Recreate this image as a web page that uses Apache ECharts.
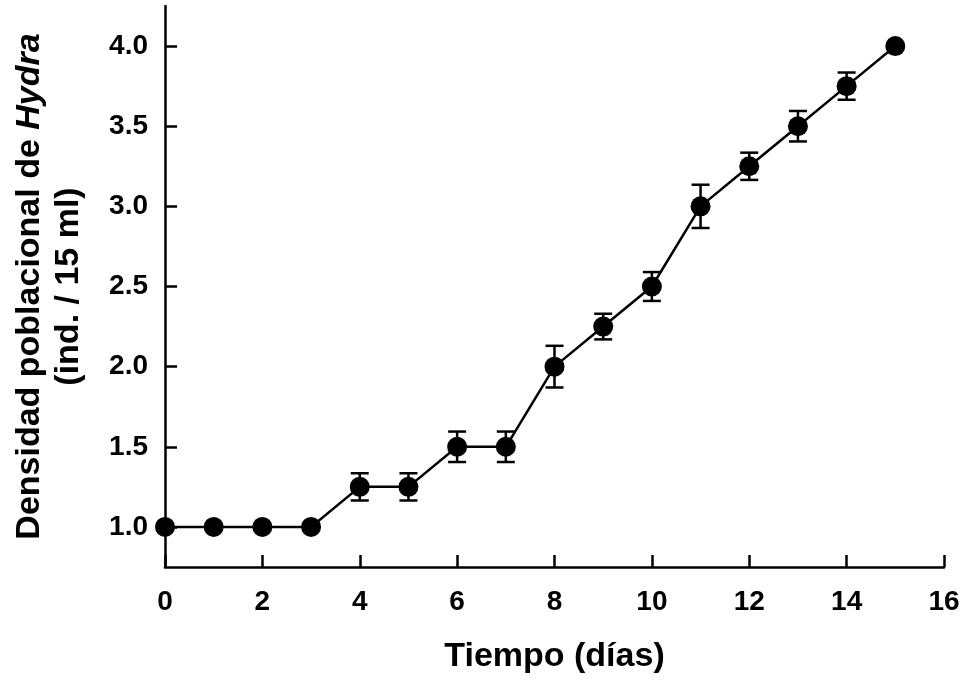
<!DOCTYPE html>
<html>
<head>
<meta charset="utf-8">
<title>Hydra</title>
<script src="https://cdn.jsdelivr.net/npm/echarts@6/dist/echarts.min.js"></script>
<style>
  html, body { margin: 0; padding: 0; background: #fff; }
  #main { width: 965px; height: 680px; }
</style>
</head>
<body>
<div id="main"></div>
<script>
// datos
var dias = [0, 1, 2, 3, 4, 5, 6, 7, 8, 9, 10, 11, 12, 13, 14, 15];
var densidad = [1.0, 1.0, 1.0, 1.0, 1.25, 1.25, 1.5, 1.5, 2.0, 2.25, 2.5, 3.0, 3.25, 3.5, 3.75, 4.0];
var errorEst = [0, 0, 0, 0, 0.085, 0.085, 0.095, 0.095, 0.13, 0.08, 0.09, 0.135, 0.085, 0.095, 0.085, 0];
var yTicks = [1.0, 1.5, 2.0, 2.5, 3.0, 3.5, 4.0];

var fuente = 'Liberation Sans, Arial, Helvetica, sans-serif';

var puntos = dias.map(function (d, i) { return [d, densidad[i]]; });
var barras = dias.map(function (d, i) {
    return [d, densidad[i] - errorEst[i], densidad[i] + errorEst[i], errorEst[i]];
});

var myChart = echarts.init(document.getElementById('main'));

var option = {
    animation: false,
    backgroundColor: '#fff',
    grid: { left: 165, right: 21, top: 6, bottom: 113 },
    xAxis: {
        type: 'value',
        min: 0,
        max: 16,
        interval: 2,
        name: 'Tiempo (días)',
        nameLocation: 'middle',
        nameGap: 73,
        nameTextStyle: { fontFamily: fuente, fontWeight: 'bold', fontSize: 34, color: '#000' },
        axisLine: { onZero: false, lineStyle: { color: '#000', width: 2.5 } },
        axisTick: { inside: true, length: 12, lineStyle: { color: '#000', width: 2.5 } },
        axisLabel: { margin: 21, fontFamily: fuente, fontWeight: 'bold', fontSize: 28, color: '#000' },
        splitLine: { show: false }
    },
    yAxis: {
        type: 'value',
        min: 0.75,
        max: 4.25,
        name: '{n|Densidad poblacional de }{i|Hydra}\n{n|(ind. / 15 ml)}',
        nameLocation: 'middle',
        nameRotate: 90,
        nameGap: 77,
        nameTextStyle: {
            fontFamily: fuente, fontWeight: 'bold', fontSize: 34, color: '#000', lineHeight: 39,
            rich: {
                n: { fontFamily: fuente, fontWeight: 'bold', fontSize: 34, color: '#000', lineHeight: 39 },
                i: { fontFamily: fuente, fontWeight: 'bold', fontStyle: 'italic', fontSize: 34, color: '#000', lineHeight: 39 }
            }
        },
        axisLine: { show: true, lineStyle: { color: '#000', width: 2.5 } },
        axisTick: { show: true, inside: true, length: 12, customValues: yTicks, lineStyle: { color: '#000', width: 2.5 } },
        axisLabel: {
            margin: 17, fontFamily: fuente, fontWeight: 'bold', fontSize: 28, color: '#000',
            customValues: yTicks,
            formatter: function (v) { return v.toFixed(1); }
        },
        splitLine: { show: false }
    },
    series: [
        {
            // barras de error
            type: 'custom',
            z: 1,
            data: barras,
            renderItem: function (params, api) {
                if (api.value(3) <= 0) return null;
                var arriba = api.coord([api.value(0), api.value(2)]);
                var abajo = api.coord([api.value(0), api.value(1)]);
                var w = 9;
                var estilo = { stroke: '#000', lineWidth: 2.5 };
                return {
                    type: 'group',
                    children: [
                        { type: 'line', shape: { x1: arriba[0], y1: arriba[1], x2: abajo[0], y2: abajo[1] }, style: estilo },
                        { type: 'line', shape: { x1: arriba[0] - w, y1: arriba[1], x2: arriba[0] + w, y2: arriba[1] }, style: estilo },
                        { type: 'line', shape: { x1: abajo[0] - w, y1: abajo[1], x2: abajo[0] + w, y2: abajo[1] }, style: estilo }
                    ]
                };
            }
        },
        {
            type: 'line',
            z: 3,
            data: puntos,
            symbol: 'circle',
            symbolSize: 20,
            itemStyle: { color: '#000' },
            lineStyle: { color: '#000', width: 2.5 }
        }
    ]
};

myChart.setOption(option);
</script>
</body>
</html>
